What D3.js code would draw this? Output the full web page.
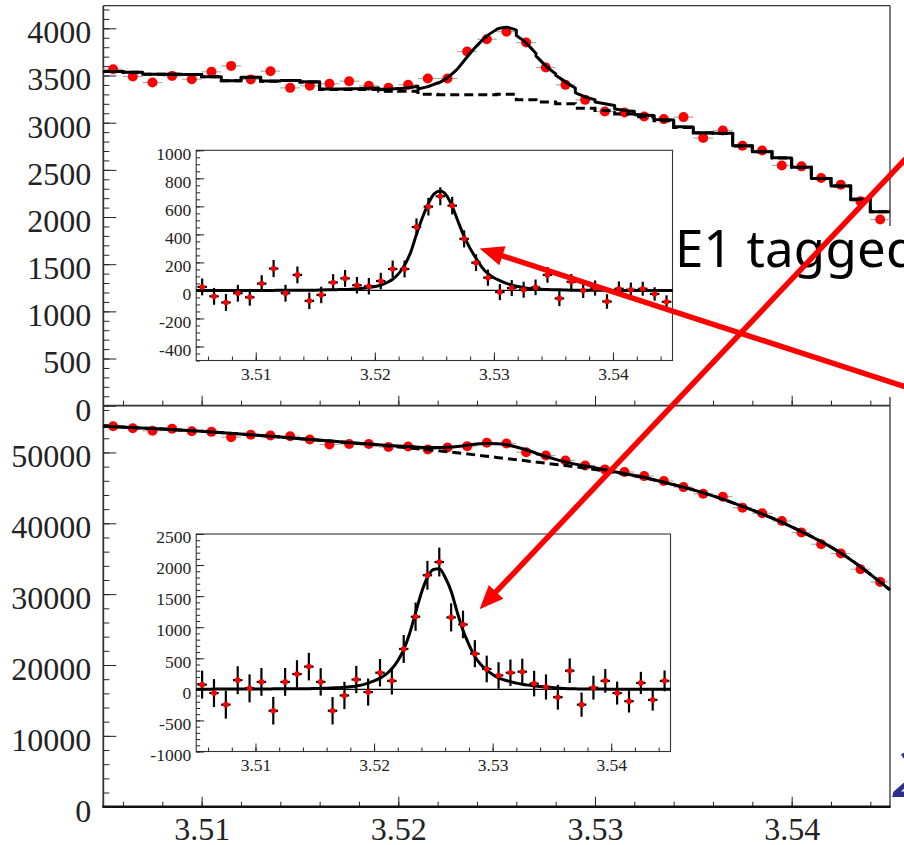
<!DOCTYPE html>
<html>
<head>
<meta charset="utf-8">
<script src="https://cdn.jsdelivr.net/npm/d3@7"></script>
<style>
  body { margin: 0; background: #fff; }
  svg { display: block; }
</style>
</head>
<body>
<svg id="chart"></svg>
<script>
// ---------- values ----------
const binCenters = [3.5055, 3.5065, 3.5075, 3.5085, 3.5095, 3.5105, 3.5115, 3.5125, 3.5135, 3.5145,
  3.5155, 3.5165, 3.5175, 3.5185, 3.5195, 3.5205, 3.5215, 3.5225, 3.5235, 3.5245,
  3.5255, 3.5265, 3.5275, 3.5285, 3.5295, 3.5305, 3.5315, 3.5325, 3.5335, 3.5345,
  3.5355, 3.5365, 3.5375, 3.5385, 3.5395, 3.5405, 3.5415, 3.5425, 3.5435, 3.5445];

// fit curves are read at bin edges and bin centres
const sampleX = [3.505, 3.5055, 3.506, 3.5065, 3.507, 3.5075, 3.508, 3.5085, 3.509, 3.5095,
  3.51, 3.5105, 3.511, 3.5115, 3.512, 3.5125, 3.513, 3.5135, 3.514, 3.5145,
  3.515, 3.5155, 3.516, 3.5165, 3.517, 3.5175, 3.518, 3.5185, 3.519, 3.5195,
  3.52, 3.5205, 3.521, 3.5215, 3.522, 3.5225, 3.523, 3.5235, 3.524, 3.5245,
  3.525, 3.5255, 3.526, 3.5265, 3.527, 3.5275, 3.528, 3.5285, 3.529, 3.5295,
  3.53, 3.5305, 3.531, 3.5315, 3.532, 3.5325, 3.533, 3.5335, 3.534, 3.5345,
  3.535, 3.5355, 3.536, 3.5365, 3.537, 3.5375, 3.538, 3.5385, 3.539, 3.5395,
  3.54, 3.5405, 3.541, 3.5415, 3.542, 3.5425, 3.543, 3.5435, 3.544, 3.5445, 3.545];

// upper panel (E1 tagged)
const topCounts = [3567, 3489, 3425, 3496, 3461, 3539, 3602, 3459, 3546, 3369,
  3391, 3412, 3440, 3391, 3369, 3401, 3468, 3468, 3754, 3885,
  3965, 3849, 3584, 3401, 3242, 3119, 3108, 3066, 3038, 3059,
  2837, 2918, 2756, 2706, 2547, 2537, 2414, 2343, 2166, 1973];
const topBkg = [3542, 3534, 3514, 3514, 3512, 3487, 3444, 3480, 3440, 3446,
  3430, 3352, 3352, 3352, 3334, 3332, 3302, 3297, 3297, 3297,
  3302, 3244, 3218, 3202, 3154, 3130, 3092, 3062, 3020, 2950,
  2890, 2885, 2754, 2692, 2626, 2528, 2408, 2330, 2188, 2057];
const topSignal = [0, 0, 0, 0, 0, 0, 0, 0, 0, 0,
  0, 0, 0, 0, 1, 1, 1, 1, 1, 2,
  2, 3, 4, 5, 6, 7, 9, 12, 16, 21,
  28, 38, 55, 80, 120, 180, 270, 400, 520, 620,
  690, 709, 680, 600, 490, 385, 300, 230, 165, 120,
  90, 70, 52, 38, 28, 20, 14, 11, 8, 6,
  5, 4, 3, 2, 2, 1, 1, 1, 1, 1,
  0, 0, 0, 0, 0, 0, 0, 0, 0, 0, 0];
const topSub = [25, -42, -86, -20, -49, 49, 156, -20, 111, -74,
  -32, 57, 86, 37, 30, 67, 153, 153, 452, 598,
  672, 605, 368, 198, 91, -12, 17, 5, 22, 111,
  -57, 62, 0, 17, -79, 12, 5, 12, -25, -81];
const topSubErr = [60, 60, 60, 60, 60, 60, 61, 60, 60, 59,
  59, 59, 60, 59, 59, 59, 60, 60, 62, 63,
  64, 63, 61, 60, 58, 57, 57, 57, 56, 56,
  55, 55, 54, 54, 52, 52, 51, 50, 48, 46];

// lower panel
const botCounts = [53700, 53420, 53060, 53340, 53000, 52910, 52160, 52490, 52390, 52300,
  51830, 51130, 51190, 51190, 50760, 50850, 50420, 50700, 50890, 51370,
  51270, 50040, 49580, 48870, 48170, 47610, 47230, 46660, 45960, 45110,
  44180, 43760, 42210, 41410, 40320, 38690, 37040, 35730, 33520, 31730];
const botBkgX = [3.505, 3.5075, 3.51, 3.5125, 3.515, 3.5175, 3.52, 3.5225, 3.525,
  3.5275, 3.53, 3.5325, 3.535, 3.5375, 3.54, 3.5425, 3.545];
const botBkgY = [53700, 53380, 52980, 52500, 51950, 51380, 50780, 50100, 49300,
  48480, 47600, 46420, 44720, 42400, 39500, 35800, 30600];
const botFitX = [3.5165, 3.517, 3.5175, 3.518, 3.5185, 3.519, 3.5195, 3.52, 3.5205, 3.521,
  3.5215, 3.522, 3.5225, 3.523, 3.5235, 3.524, 3.5245, 3.525, 3.5255, 3.526,
  3.5265, 3.527, 3.5275, 3.528, 3.5285, 3.529, 3.5295, 3.53, 3.5305, 3.531,
  3.5315, 3.532, 3.5325, 3.533, 3.5335, 3.534, 3.5345];
const botFitY = [51631, 51521, 51413, 51302, 51195, 51092, 51000, 50915, 50824, 50748,
  50702, 50696, 50740, 50840, 51010, 51180, 51260, 51230, 51076, 50772,
  50388, 49894, 49430, 49024, 48658, 48352, 48086, 47840, 47549, 47278,
  47017, 46756, 46502, 46148, 45797, 45447, 45100];
const botSignal = [3, 3, 3, 4, 4, 4, 5, 5, 5, 6,
  6, 7, 7, 8, 9, 9, 10, 10, 10, 11,
  13, 16, 19, 23, 27, 33, 42, 55, 72, 100,
  135, 180, 240, 330, 460, 640, 900, 1230, 1560, 1800,
  1930, 1940, 1800, 1580, 1250, 950, 720, 530, 400, 310,
  240, 185, 150, 125, 100, 82, 68, 57, 47, 40,
  32, 22, 15, 11, 8, 6, 5, 5, 4, 4,
  3, 3, 3, 2, 2, 2, 2, 1, 1, 1, 1];
const botSub = [76, -60, -246, 148, 16, 120, -344, 120, 246, 366,
  120, -344, -98, 158, -44, 268, 137, 650, 1169, 1836,
  2049, 1158, 1044, 574, 328, 224, 268, 284, 93, 38,
  -126, 300, -246, 27, 137, -60, -191, 104, -169, 137];
const botSubErr = [225, 225, 225, 225, 225, 224, 222, 224, 223, 222,
  221, 220, 220, 220, 218, 220, 220, 225, 228, 232,
  232, 226, 222, 218, 215, 213, 212, 210, 206, 202,
  200, 198, 195, 192, 190, 185, 182, 178, 173, 168];

// tick labels
const xTicks = [3.51, 3.52, 3.53, 3.54];
const topYTicks = [0, 500, 1000, 1500, 2000, 2500, 3000, 3500, 4000];
const botYTicks = [0, 10000, 20000, 30000, 40000, 50000];
const inTopYTicks = [-400, -200, 0, 200, 400, 600, 800, 1000];
const inBotYTicks = [-1000, -500, 0, 500, 1000, 1500, 2000, 2500];

// ---------- layout ----------
const width = 904;
const height = 845;
const halfBin = 0.0005;
const svg = d3.select("#chart").attr("width", width).attr("height", height);

const x = d3.scaleLinear().domain([3.505, 3.545]).range([103.3, 890]);
const yTop = d3.scaleLinear().domain([0, 4240]).range([405.7, 5.7]);
const yBot = d3.scaleLinear().domain([0, 56600]).range([806.7, 405.7]);
const xInTop = d3.scaleLinear().domain([3.505, 3.545]).range([196.2, 672.5]);
const yInTop = d3.scaleLinear().domain([-500, 1000]).range([360.5, 150.3]);
const xInBot = d3.scaleLinear().domain([3.505, 3.545]).range([196.2, 670.5]);
const yInBot = d3.scaleLinear().domain([-1000, 2500]).range([751.5, 534]);

const serif = "'Liberation Serif', 'Times New Roman', serif";

// axis helper: ticks point into the plot, domain path removed
const drawAxis = (axis, tx, ty, fontSize, dy) => {
  const g = svg.append("g")
    .attr("transform", "translate(" + tx + "," + ty + ")")
    .call(axis);
  g.select(".domain").remove();
  g.attr("font-family", serif).attr("font-size", fontSize).attr("color", "#222");
  g.selectAll("line").attr("stroke-width", 1);
  if (dy) g.selectAll("text").attr("dy", dy);
  return g;
};

// ---------- main frame and axes ----------
const x0 = x.range()[0];
const x1 = x.range()[1];

// minor + major ticks, top panel
drawAxis(d3.axisLeft(yTop).tickValues(yTop.ticks(40)).tickSize(-6).tickFormat(""), x0, 0, 32);
drawAxis(d3.axisLeft(yTop).tickValues(topYTicks).tickSize(-13).tickPadding(12)
  .tickFormat((d) => String(d)), x0, 0, 32, "0.45em");
drawAxis(d3.axisBottom(x).tickValues(x.ticks(20)).tickSize(-5).tickFormat(""), 0, yTop(0), 32);
drawAxis(d3.axisBottom(x).tickValues(xTicks).tickSize(-10).tickFormat(""), 0, yTop(0), 32);

// minor + major ticks, bottom panel
drawAxis(d3.axisLeft(yBot).tickValues(yBot.ticks(30)).tickSize(-6).tickFormat(""), x0, 0, 32);
drawAxis(d3.axisLeft(yBot).tickValues(botYTicks).tickSize(-13).tickPadding(12)
  .tickFormat((d) => String(d)), x0, 0, 32, "0.45em");
drawAxis(d3.axisBottom(x).tickValues(x.ticks(20)).tickSize(-5).tickFormat(""), 0, yBot(0), 32);
drawAxis(d3.axisBottom(x).tickValues(xTicks).tickSize(-10).tickPadding(11)
  .tickFormat(d3.format(".2f")), 0, yBot(0), 32);

// frame lines
const frame = svg.append("g").attr("fill", "none");
frame.append("line").attr("x1", x0).attr("x2", x1).attr("y1", yTop.range()[1]).attr("y2", yTop.range()[1])
  .attr("stroke", "#333").attr("stroke-width", 1.3);
frame.append("line").attr("x1", x1).attr("x2", x1).attr("y1", yTop.range()[1]).attr("y2", yBot(0))
  .attr("stroke", "#333").attr("stroke-width", 1.3);
frame.append("line").attr("x1", x0).attr("x2", x1).attr("y1", yTop(0)).attr("y2", yTop(0))
  .attr("stroke", "#333").attr("stroke-width", 1.7);
frame.append("line").attr("x1", x0).attr("x2", x0).attr("y1", yTop.range()[1]).attr("y2", yBot(0))
  .attr("stroke", "#333").attr("stroke-width", 1.8);
frame.append("line").attr("x1", x0 - 1).attr("x2", x1 + 0.6).attr("y1", yBot(0)).attr("y2", yBot(0))
  .attr("stroke", "#111").attr("stroke-width", 2.4);

// ---------- top panel data ----------
const topG = svg.append("g");
topG.selectAll("line.xerr")
  .data(topCounts)
  .enter()
  .append("line")
  .attr("class", "xerr")
  .attr("x1", (d, i) => x(binCenters[i] - halfBin))
  .attr("x2", (d, i) => x(binCenters[i] + halfBin))
  .attr("y1", (d) => yTop(d))
  .attr("y2", (d) => yTop(d))
  .attr("stroke", "#aaa")
  .attr("stroke-width", 1.2);
topG.selectAll("circle")
  .data(topCounts)
  .enter()
  .append("circle")
  .attr("cx", (d, i) => x(binCenters[i]))
  .attr("cy", (d) => yTop(d))
  .attr("r", 5)
  .attr("fill", "#ff0000");

// background histogram (dashed steps)
const stepPts = topBkg.map((b, i) => [sampleX[2 * i], b]);
stepPts.push([sampleX[80], topBkg[39]]);
topG.append("path")
  .attr("d", d3.line().x((d) => x(d[0])).y((d) => yTop(d[1])).curve(d3.curveStepAfter)(stepPts))
  .attr("fill", "none")
  .attr("stroke", "#000")
  .attr("stroke-width", 3)
  .attr("stroke-dasharray", "9,5");

// total fit: background steps + smooth signal
const monoTop = d3.line().x((d) => x(d[0])).y((d) => yTop(d[1])).curve(d3.curveMonotoneX);
let topFitPath = "";
topBkg.forEach((b, i) => {
  const pts = [0, 1, 2].map((j) => [sampleX[2 * i + j], b + topSignal[2 * i + j]]);
  const seg = monoTop(pts);
  topFitPath += i === 0 ? seg : "L" + seg.slice(1);
});
topG.append("path")
  .attr("d", topFitPath)
  .attr("fill", "none")
  .attr("stroke", "#000")
  .attr("stroke-width", 3)
  .attr("stroke-linejoin", "round");

// ---------- bottom panel data ----------
const botG = svg.append("g");
botG.selectAll("line.xerr")
  .data(botCounts)
  .enter()
  .append("line")
  .attr("class", "xerr")
  .attr("x1", (d, i) => x(binCenters[i] - halfBin))
  .attr("x2", (d, i) => x(binCenters[i] + halfBin))
  .attr("y1", (d) => yBot(d))
  .attr("y2", (d) => yBot(d))
  .attr("stroke", "#aaa")
  .attr("stroke-width", 1.2);
botG.selectAll("circle")
  .data(botCounts)
  .enter()
  .append("circle")
  .attr("cx", (d, i) => x(binCenters[i]))
  .attr("cy", (d) => yBot(d))
  .attr("r", 5)
  .attr("fill", "#ff0000");

const monoBot = d3.line().x((d) => x(d[0])).y((d) => yBot(d[1])).curve(d3.curveMonotoneX);
const botBkgPts = botBkgX.map((v, i) => [v, botBkgY[i]]);
botG.append("path")
  .attr("d", monoBot(botBkgPts))
  .attr("fill", "none")
  .attr("stroke", "#000")
  .attr("stroke-width", 3)
  .attr("stroke-dasharray", "9,5");
const botTotalPts = botBkgPts.filter((p) => p[0] < botFitX[0])
  .concat(botFitX.map((v, i) => [v, botFitY[i]]))
  .concat(botBkgPts.filter((p) => p[0] > botFitX[botFitX.length - 1]));
botG.append("path")
  .attr("d", monoBot(botTotalPts))
  .attr("fill", "none")
  .attr("stroke", "#000")
  .attr("stroke-width", 3);

// ---------- insets ----------
const drawInset = (xs, ys, yTicks, minorCount, values, errs, signal) => {
  const g = svg.append("g");
  g.append("rect")
    .attr("x", xs.range()[0])
    .attr("y", ys.range()[1])
    .attr("width", xs.range()[1] - xs.range()[0])
    .attr("height", ys.range()[0] - ys.range()[1])
    .attr("fill", "#fff")
    .attr("stroke", "#333")
    .attr("stroke-width", 1.1);

  const left = xs.range()[0];
  const bottom = ys.range()[0];
  drawAxis(d3.axisLeft(ys).tickValues(ys.ticks(minorCount)).tickSize(-4).tickFormat(""), left, 0, 17.5);
  drawAxis(d3.axisLeft(ys).tickValues(yTicks).tickSize(-8).tickPadding(5)
    .tickFormat((d) => String(d)), left, 0, 17.5, "0.5em");
  drawAxis(d3.axisBottom(xs).tickValues(xs.ticks(20)).tickSize(-4).tickFormat(""), 0, bottom, 17.5);
  drawAxis(d3.axisBottom(xs).tickValues(xTicks).tickSize(-8).tickPadding(7)
    .tickFormat(d3.format(".2f")), 0, bottom, 17.5);

  // zero line
  g.append("line")
    .attr("x1", xs.range()[0]).attr("x2", xs.range()[1])
    .attr("y1", ys(0)).attr("y2", ys(0))
    .attr("stroke", "#000").attr("stroke-width", 1.2);

  // fitted signal
  const sig = d3.line().x((d, i) => xs(sampleX[i])).y((d) => ys(d)).curve(d3.curveMonotoneX);
  const pg = svg.append("g");
  pg.append("path")
    .attr("d", sig(signal))
    .attr("fill", "none")
    .attr("stroke", "#000")
    .attr("stroke-width", 3);

  pg.selectAll("line.ey")
    .data(values)
    .enter()
    .append("line")
    .attr("class", "ey")
    .attr("x1", (d, i) => xs(binCenters[i]))
    .attr("x2", (d, i) => xs(binCenters[i]))
    .attr("y1", (d, i) => ys(d - errs[i]))
    .attr("y2", (d, i) => ys(d + errs[i]))
    .attr("stroke", "#000")
    .attr("stroke-width", 2.2);
  pg.selectAll("line.ex")
    .data(values)
    .enter()
    .append("line")
    .attr("class", "ex")
    .attr("x1", (d, i) => xs(binCenters[i] - 0.0004))
    .attr("x2", (d, i) => xs(binCenters[i] + 0.0004))
    .attr("y1", (d) => ys(d))
    .attr("y2", (d) => ys(d))
    .attr("stroke", "#000")
    .attr("stroke-width", 2.2);
  pg.selectAll("circle")
    .data(values)
    .enter()
    .append("circle")
    .attr("cx", (d, i) => xs(binCenters[i]))
    .attr("cy", (d) => ys(d))
    .attr("r", 2.8)
    .attr("fill", "#ff0000");
};

drawInset(xInTop, yInTop, inTopYTicks, 30, topSub, topSubErr, topSignal);
drawInset(xInBot, yInBot, inBotYTicks, 35, botSub, botSubErr, botSignal);

// ---------- annotations ----------
// text box covering the right frame edge
svg.append("rect")
  .attr("x", 885.5).attr("y", 226).attr("width", 12).attr("height", 171)
  .attr("fill", "#fff");
svg.append("text")
  .attr("x", 675)
  .attr("y", 267)
  .attr("font-family", "'Noto Sans', 'Open Sans', sans-serif")
  .attr("font-size", 51)
  .attr("letter-spacing", 0.2)
  .attr("fill", "#000")
  .text("E1 tagged");

svg.append("text")
  .attr("x", 892)
  .attr("y", 797)
  .attr("font-family", "'Noto Sans', sans-serif")
  .attr("font-style", "italic")
  .attr("font-size", 66)
  .attr("fill", "#2e2e8e")
  .text("2");

const drawArrow = (sx, sy, tx, ty) => {
  const ang = Math.atan2(ty - sy, tx - sx);
  const len = 24;
  const hw = 10;
  const bx = tx - len * Math.cos(ang);
  const by = ty - len * Math.sin(ang);
  svg.append("line")
    .attr("x1", sx).attr("y1", sy)
    .attr("x2", bx + 4 * Math.cos(ang)).attr("y2", by + 4 * Math.sin(ang))
    .attr("stroke", "#ff0000")
    .attr("stroke-width", 5.5);
  svg.append("polygon")
    .attr("points", [
      [tx, ty],
      [bx - hw * Math.sin(ang), by + hw * Math.cos(ang)],
      [bx + hw * Math.sin(ang), by - hw * Math.cos(ang)],
    ].map((p) => p.join(",")).join(" "))
    .attr("fill", "#ff0000");
};

// arrows point at the fitted peaks of the two insets
drawArrow(912, 389, xInTop(3.5288), yInTop(300));
drawArrow(912, 152, xInBot(3.5289), yInBot(1290));
</script>
</body>
</html>
